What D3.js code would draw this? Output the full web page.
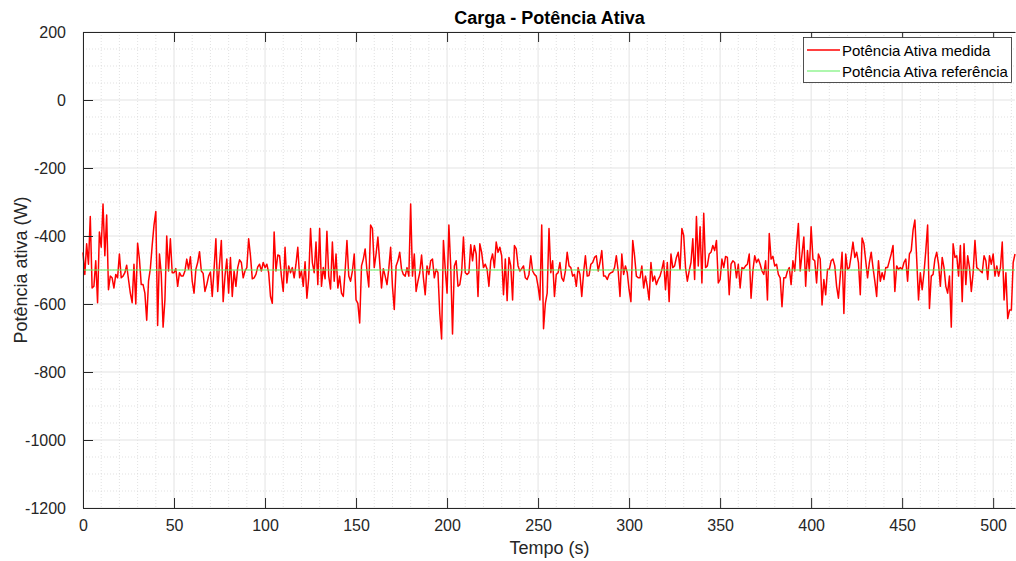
<!DOCTYPE html>
<html>
<head>
<meta charset="utf-8">
<script src="https://cdn.jsdelivr.net/npm/d3@7"></script>
<style>
  html, body { margin: 0; padding: 0; background: #fff; }
  svg { display: block; font-family: "Liberation Sans", Arial, Helvetica, sans-serif; }
</style>
</head>
<body>
<svg id="chart" width="1016" height="561"></svg>
<script>
// Measured active power (W), one sample per second, t = 0 .. 512 s
const measuredA = [
  -448,-513,-423,-483,-343,-553,-548,-473,-596,-388,-433,-306,-458,-338,-558,-518,-523,-553,-513,-523,
  -453,-523,-518,-508,-486,-528,-568,-596,-483,-600,-421,-468,-543,-543,-568,-648,-533,-496,-428,-368,
  -328,-663,-453,-513,-668,-588,-400,-503,-408,-508,-508,-496,-548,-508,-518,-518,-503,-468,-498,-461,
  -533,-568,-498,-478,-446,-503,-510,-563,-543,-518,-506,-578,-498,-408,-563,-483,-413,-593,-518,-468,
  -568,-463,-578,-503,-548,-493,-470,-478,-523,-503,-493,-408,-458,-526,-523,-513,-491,-483,-503,-478,
  -493,-483,-508,-578,-598,-388,-503,-456,-458,-518,-563,-433,-538,-488,-508,-493,-523,-483,-433,-523,
  -503,-548,-476,-583,-523,-378,-478,-508,-418,-543,-378
];
const measuredB = [
  -548,-493,-526,-386,-518,-556,-418,-533,-453,-553,-518,-568,-578,-503,-413,-518,-533,-503,-453,-588,
  -598,-656,-488,-468,-438,-503,-550,-368,-378,-493,-453,-403,-478,-553,-496,-518,-543,-496,-433,-548,
  -616,-488,-473,-448,-498,-513,-518,-493,-518,-306,-518,-453,-563,-533,-508,-456,-523,-573,-488,-513,
  -473,-468,-523,-498,
  -508,-628,-703,-413,-498,-568,-368,-488,-688,-488,-473,-548,-543,-508,-403,-508,-513,-508,-426,-473,
  -428,-453,-578,-423,-448,-493,-483,-498,-548,-473,-453,-493,-418,-448,-433,-458,-573,-468,-590,-463,
  -488,-588,-428,-438,-488,-503,-496,-488,-523,-528,-513,-458,-503,-513,-518,-548,-588,-368,-673,-598,
  -568,-378,-508,-473
];
const measuredC = [
  -578,-513,-508,-478,-523,-533,-503,-448,-488,-493,-518,-513,-548,-493,-513,-578,-508,-458,-518,-516,
  -483,-478,-463,-458,-503,-478,-443,-518,-518,-528,-513,-508,-506,-493,-458,-503,-578,-453,-513,-488,
  -508,-558,-593,-413,-458,-518,-523,-523,-488,-553,-518,-548,-588,-478,-533,-518,-543,-528,-518,-498,
  -473,-558,-478,-593,
  -453,-493,-488,-463,-448,-498,-378,-398,-493,-533,-503,-478,-408,-528,-343,-488,-373,-538,-333,-493,
  -488,-453,-448,-428,-443,-413,-538,-528,-468,-493,-460,-463,-573,-483,-473,-478,-523,-483,-553,-493,
  -496,-488,-483,-453,-583,-503,-458,-478,-468,-483,-503,-513,-473,-588,-393,-468,-460,-488,-483,-513,
  -523,-608,-523,-523,-503,-493
];
const measuredD = [
  -543,-473,-503,-428,-363,-503,-453,-403,-548,-443,-503,-373,-468,-473,-538,-453,-468,-603,-528,-573,
  -498,-498,-473,-468,-488,-548,-583,-518,-448,-628,-453,-498,-493,-458,-418,-463,-448,-478,-573,-406,
  -423,-473,-523,-478,-448,-493,-533,-578,-473,-533,-508,-528,-493,-493,-473,-453,-428,-563,-488,-498,
  -493,-498,-478,
  -468,-533,-453,-443,-383,-353,-468,-588,-508,-558,-508,-443,-368,-613,-518,-513,-468,-448,-483,-548,
  -463,-493,-548,-568,-518,-668,-423,-463,-458,-518,-428,-593,-423,-543,-458,-493,-563,-508,-413,-493,
  -498,-503,-508,-458,-473,-528,-458,-483,-453,-518,-488,-518,-493,-418,-588,-508,-643,-618,-618,-478,
  -453
];
const measured = [].concat(measuredA, measuredB, measuredC, measuredD);
const time = measured.map((_, i) => i);

// Reference active power (W)
const referenceValue = -500;

// Axis ticks and labels
const xTicks = [0, 50, 100, 150, 200, 250, 300, 350, 400, 450, 500];
const yTicks = [-1200, -1000, -800, -600, -400, -200, 0, 200];
const xMinor = d3.range(0, 513, 10);
const yMinor = d3.range(-1200, 201, 50);
const titleText = "Carga - Potência Ativa";
const xLabelText = "Tempo (s)";
const yLabelText = "Potência ativa (W)";
const legendLabels = ["Potência Ativa medida", "Potência Ativa referência"];

const svg = d3.select("#chart");
const plotLeft = 83, plotRight = 1015, plotTop = 32, plotBottom = 508;

const x = d3.scaleLinear().domain([0, 512]).range([plotLeft, plotRight]);
const y = d3.scaleLinear().domain([-1200, 200]).range([plotBottom, plotTop]);

const axisColor = "#262626";

// Minor grid (dotted)
const g = svg.append("g");
g.selectAll(".xmin").data(xMinor.filter(v => !xTicks.includes(v))).enter().append("line")
  .attr("x1", d => x(d)).attr("x2", d => x(d)).attr("y1", plotTop).attr("y2", plotBottom)
  .attr("stroke", "#d9d9d9").attr("stroke-width", 0.8).attr("stroke-dasharray", "1,2");
g.selectAll(".ymin").data(yMinor.filter(v => !yTicks.includes(v))).enter().append("line")
  .attr("x1", plotLeft).attr("x2", plotRight).attr("y1", d => y(d)).attr("y2", d => y(d))
  .attr("stroke", "#d9d9d9").attr("stroke-width", 0.8).attr("stroke-dasharray", "1,2");

// Major grid (solid, light)
g.selectAll(".xmaj").data(xTicks).enter().append("line")
  .attr("x1", d => x(d)).attr("x2", d => x(d)).attr("y1", plotTop).attr("y2", plotBottom)
  .attr("stroke", "#e3e3e3").attr("stroke-width", 1);
g.selectAll(".ymaj").data(yTicks).enter().append("line")
  .attr("x1", plotLeft).attr("x2", plotRight).attr("y1", d => y(d)).attr("y2", d => y(d))
  .attr("stroke", "#e3e3e3").attr("stroke-width", 1);

// Data lines
const line = d3.line().x((d, i) => x(time[i])).y(d => y(d));
svg.append("path").datum(measured)
  .attr("d", line).attr("fill", "none")
  .attr("stroke", "#ff0000").attr("stroke-width", 1.5).attr("stroke-linejoin", "round");

svg.append("line")
  .attr("x1", x(0)).attr("x2", x(512))
  .attr("y1", y(referenceValue)).attr("y2", y(referenceValue))
  .attr("stroke", "#5ef05e").attr("stroke-width", 1.2);

// Axes (ticks inside, mirrored on top); plain hyphen-minus in labels
const fontSize = 16;
const plainFmt = d => String(d);
const xAxis = d3.axisBottom(x).tickValues(xTicks).tickFormat(plainFmt)
  .tickSizeInner(-10).tickSizeOuter(0).tickPadding(12);
const yAxis = d3.axisLeft(y).tickValues(yTicks).tickFormat(plainFmt)
  .tickSizeInner(-10).tickSizeOuter(0).tickPadding(17);
const xTop = d3.axisTop(x).tickValues(xTicks).tickSizeInner(-10).tickSizeOuter(0).tickFormat("");

function styleAxis(sel) {
  sel.selectAll("path").attr("stroke", axisColor).attr("stroke-width", 1);
  sel.selectAll("line").attr("stroke", axisColor).attr("stroke-width", 1);
  sel.selectAll("text").attr("fill", axisColor).style("font-size", fontSize + "px")
    .style("font-family", "Liberation Sans, Arial, sans-serif");
}

svg.append("g").attr("transform", `translate(0,${plotBottom})`).call(xAxis).call(styleAxis);
svg.append("g").attr("transform", `translate(${plotLeft},0)`).call(yAxis).call(styleAxis);
svg.append("g").attr("transform", `translate(0,${plotTop})`).call(xTop).call(styleAxis);

// Title and axis labels
svg.append("text").attr("x", (plotLeft + 1016) / 2).attr("y", 24)
  .attr("text-anchor", "middle").attr("font-weight", "bold")
  .style("font-size", "18px").attr("fill", "#000").text(titleText);
svg.append("text").attr("x", (plotLeft + 1016) / 2).attr("y", 554)
  .attr("text-anchor", "middle").style("font-size", "18px").attr("fill", axisColor).text(xLabelText);
svg.append("text").attr("transform", `translate(27,${(plotTop + plotBottom) / 2}) rotate(-90)`)
  .attr("text-anchor", "middle").style("font-size", "18px").attr("fill", axisColor).text(yLabelText);

// Legend
const legend = svg.append("g");
legend.append("rect").attr("x", 803.5).attr("y", 37.5).attr("width", 208).attr("height", 45)
  .attr("fill", "#fff").attr("stroke", axisColor).attr("stroke-width", 0.8);
const legendColors = ["#ff0000", "#5ef05e"];
legendLabels.forEach((lab, i) => {
  const ly = 50 + i * 21;
  legend.append("line").attr("x1", 807).attr("x2", 840).attr("y1", ly).attr("y2", ly)
    .attr("stroke", legendColors[i]).attr("stroke-width", i === 0 ? 1.5 : 1.2);
  legend.append("text").attr("x", 842).attr("y", ly + 5.5)
    .style("font-size", "15px").attr("fill", "#000").text(lab);
});
</script>
</body>
</html>
